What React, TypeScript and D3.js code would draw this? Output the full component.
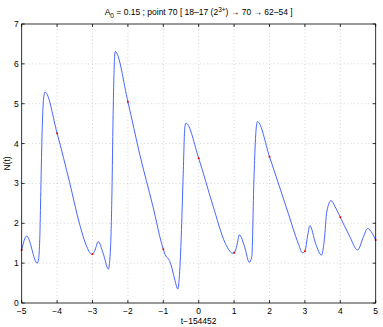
import React, { useEffect, useRef } from 'react';
import * as d3 from 'd3';

// curve samples (t offset, N)
const tValues = [
  -5.0, -4.86, -4.56, -4.52, -4.49, -4.46, -4.42, -4.38, -4.34,
  -4.0, -3.64, -3.37, -3.16, -3.08, -3.02, -2.94, -2.84, -2.7, -2.55,
  -2.49, -2.45, -2.42, -2.4, -2.36, -2.0, -1.66, -1.3, -1.0, -0.93,
  -0.85, -0.78, -0.68, -0.59, -0.53, -0.48, -0.44, -0.39, -0.36,
  0.0, 0.4, 0.75, 0.88, 0.95, 1.02, 1.08, 1.15, 1.3, 1.43, 1.5, 1.56,
  1.62, 1.66, 2.0, 2.53, 2.81, 2.93, 3.0, 3.08, 3.14, 3.3, 3.47, 3.55,
  3.62, 3.74, 3.85, 4.0, 4.25, 4.49, 4.65, 4.77, 4.9, 5.0,
];
const nValues = [
  1.33, 1.68, 1.0, 1.12, 1.6, 2.8, 4.4, 5.15, 5.29,
  4.26, 3.0, 2.0, 1.41, 1.27, 1.23, 1.3, 1.54, 1.25, 0.85,
  1.41, 2.8, 4.6, 5.5, 6.31, 5.05, 3.71, 2.45, 1.35, 1.18,
  1.1, 0.95, 0.6, 0.35, 0.91, 2.0, 3.17, 4.42, 4.51,
  3.63, 2.45, 1.5, 1.3, 1.25, 1.28, 1.45, 1.71, 1.4, 1.02, 1.16, 3.09,
  4.34, 4.55, 3.67, 2.25, 1.5, 1.26, 1.3, 1.7, 1.94, 1.5, 1.2, 1.6,
  2.3, 2.57, 2.42, 2.15, 1.7, 1.33, 1.65, 1.87, 1.75, 1.58,
];

// red sample markers at integer t
const markT = [-5, -4, -3, -2, -1, 0, 1, 2, 3, 4, 5];
const markN = [1.33, 4.26, 1.23, 5.05, 1.35, 3.63, 1.26, 3.67, 1.3, 2.15, 1.58];

const xTicks = [-5, -4, -3, -2, -1, 0, 1, 2, 3, 4, 5];
const yTicks = [0, 1, 2, 3, 4, 5, 6, 7];

const W = 383;
const H = 327;
const margin = { left: 21.7, right: 7.3, top: 24, bottom: 24 };
const font = '"Liberation Sans", Arial, sans-serif';

const App = () => {
  const ref = useRef<SVGSVGElement>(null);

  useEffect(() => {
    const svg = d3.select(ref.current);
    svg.selectAll('*').remove();

    const x = d3.scaleLinear().domain([-5, 5]).range([margin.left, W - margin.right]);
    const y = d3.scaleLinear().domain([0, 7]).range([H - margin.bottom, margin.top]);
    const [x0, x1] = x.range();
    const [y0, y1] = y.range();

    svg.append('rect').attr('width', W).attr('height', H).attr('fill', '#fff');

    // dotted grid
    const grid = svg.append('g').attr('stroke', '#b8b8b8').attr('stroke-width', 0.6)
      .attr('stroke-dasharray', '1,2.5');
    grid.selectAll('line.gx').data(xTicks.slice(1, -1)).enter().append('line')
      .attr('x1', d => x(d)).attr('x2', d => x(d)).attr('y1', y0).attr('y2', y1);
    grid.selectAll('line.gy').data(yTicks.slice(1, -1)).enter().append('line')
      .attr('y1', d => y(d)).attr('y2', d => y(d)).attr('x1', x0).attr('x2', x1);

    // curve
    const pts = tValues.map((t, i) => [t, nValues[i]] as [number, number]);
    const line = d3.line<[number, number]>()
      .x(d => x(d[0])).y(d => y(d[1]))
      .curve(d3.curveMonotoneX);
    svg.append('path').datum(pts).attr('d', line)
      .attr('fill', 'none').attr('stroke', '#3355ff').attr('stroke-width', 0.9);

    svg.selectAll('circle.mark').data(markT).enter().append('circle')
      .attr('cx', d => x(d)).attr('cy', (d, i) => y(markN[i])).attr('r', 1)
      .attr('fill', '#ff0000');

    // box and inward ticks
    const ax = svg.append('g').attr('stroke', '#000').attr('stroke-width', 0.8);
    ax.append('rect').attr('x', x0).attr('y', y1).attr('width', x1 - x0).attr('height', y0 - y1)
      .attr('fill', 'none');
    xTicks.forEach(t => {
      ax.append('line').attr('x1', x(t)).attr('x2', x(t)).attr('y1', y0).attr('y2', y0 - 3);
      ax.append('line').attr('x1', x(t)).attr('x2', x(t)).attr('y1', y1).attr('y2', y1 + 3);
    });
    yTicks.forEach(t => {
      ax.append('line').attr('y1', y(t)).attr('y2', y(t)).attr('x1', x0).attr('x2', x0 + 3);
      ax.append('line').attr('y1', y(t)).attr('y2', y(t)).attr('x1', x1).attr('x2', x1 - 3);
    });

    const fmt = (d: number) => (d < 0 ? '\u2212' + Math.abs(d) : String(d));
    svg.append('g').selectAll('text').data(xTicks).enter().append('text')
      .attr('x', d => x(d)).attr('y', y0 + 11).attr('text-anchor', 'middle')
      .attr('font-size', 8.5).attr('font-family', font).text(fmt);
    svg.append('g').selectAll('text').data(yTicks).enter().append('text')
      .attr('x', x0 - 3).attr('y', d => y(d) + 3).attr('text-anchor', 'end')
      .attr('font-size', 8.5).attr('font-family', font).text(fmt);

    svg.append('text').attr('x', (x0 + x1) / 2).attr('y', H - 3).attr('text-anchor', 'middle')
      .attr('font-size', 8.5).attr('font-family', font).text('t\u2212154452');
    svg.append('text').attr('transform', `translate(10,${(y0 + y1) / 2}) rotate(-90)`)
      .attr('text-anchor', 'middle').attr('font-size', 8.5).attr('font-family', font).text('N(t)');

    const title = svg.append('text').attr('x', (x0 + x1) / 2).attr('y', 15)
      .attr('text-anchor', 'middle').attr('font-size', 8.5).attr('font-family', font);
    title.append('tspan').text('A');
    title.append('tspan').attr('font-size', 6.5).attr('dy', 2.5).text('0');
    title.append('tspan').attr('dy', -2.5).text(' = 0.15 ; point 70 [ 18\u201317 (2');
    title.append('tspan').attr('font-size', 6.5).attr('dy', -3.5).text('3+');
    title.append('tspan').attr('dy', 3.5).text(') \u2192 70 \u2192 62\u201354 ]');
  }, []);

  return (
    <svg ref={ref} width={W} height={H}
      style={{ position: 'absolute', left: 0, top: 0, display: 'block' }} />
  );
};

export default App;
